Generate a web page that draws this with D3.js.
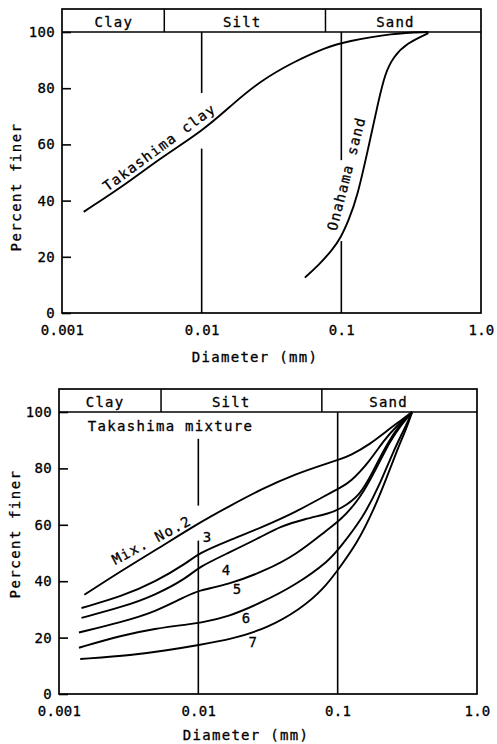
<!DOCTYPE html>
<html>
<head>
<meta charset="utf-8">
<script src="https://cdn.jsdelivr.net/npm/d3@7"></script>
<style>
  html, body { margin: 0; padding: 0; background: #fff; }
  svg { display: block; }
  text { font-family: "DejaVu Sans Mono", "Liberation Mono", monospace; fill: #000; stroke: #000; stroke-width: 0.3px; }
</style>
</head>
<body>
<svg id="chart" width="497" height="744"></svg>
<script>
// ---- axis content ----
const xTicks = [0.001, 0.01, 0.1, 1.0];
const xTickLabels = ["0.001", "0.01", "0.1", "1.0"];
const yTicks = [0, 20, 40, 60, 80, 100];

// soil classes (grain size, mm)
const bandNames = ["Clay", "Silt", "Sand"];
const bandEdges = [0.001, 0.0054, 0.077, 1.0];

// ---- upper panel: parent soils ----
const clayDiam = [0.00143, 0.00294, 0.00508, 0.0103, 0.0168, 0.0262, 0.0451, 0.0787, 0.109, 0.232, 0.42];
const clayPct  = [36.0, 46.2, 55.2, 65.0, 74.5, 82.5, 89.3, 94.7, 96.6, 99.6, 100];

const sandDiam = [0.0548, 0.069, 0.0859, 0.0986, 0.113, 0.1295, 0.155, 0.185, 0.206, 0.236, 0.294, 0.42];
const sandPct  = [12.6, 17.1, 22.4, 26.6, 33.1, 41.0, 58.0, 75.8, 85.3, 91.2, 96.0, 99.6];

// ---- lower panel: Takashima mixtures ----
const mix2Diam = [0.00152, 0.00282, 0.00489, 0.00996, 0.0164, 0.0285, 0.0495, 0.0882, 0.104, 0.1227, 0.1709, 0.2252, 0.2806, 0.342];
const mix2Pct  = [35.2, 43.8, 50.9, 60.5, 66.4, 72.7, 78.0, 82.1, 83.3, 84.5, 88.6, 93.3, 96.8, 100];

const mix3Diam = [0.00145, 0.00282, 0.00489, 0.00843, 0.00996, 0.0164, 0.0285, 0.0495, 0.0857, 0.104, 0.1227, 0.1709, 0.2129, 0.2657, 0.342];
const mix3Pct  = [30.5, 34.6, 39.7, 46.7, 49.8, 54.4, 59.1, 64.4, 70.9, 73.2, 75.0, 82.7, 89.8, 95.1, 100];

const mix4Diam = [0.00145, 0.00282, 0.00489, 0.00843, 0.00996, 0.0164, 0.0285, 0.0386, 0.0583, 0.0882, 0.104, 0.1448, 0.1805, 0.2252, 0.2806, 0.342];
const mix4Pct  = [27.0, 30.8, 35.0, 41.4, 44.9, 50.0, 55.8, 59.4, 62.1, 64.1, 65.6, 70.3, 79.2, 88.6, 95.7, 100];

const mix5Diam = [0.00139, 0.00282, 0.00489, 0.00843, 0.00996, 0.0164, 0.0295, 0.051, 0.0857, 0.104, 0.1448, 0.1909, 0.2378, 0.2886, 0.342];
const mix5Pct  = [21.8, 25.5, 29.1, 35.0, 36.7, 38.8, 43.5, 49.5, 58.6, 61.5, 69.2, 80.3, 89.8, 95.7, 100];

const mix6Diam = [0.00139, 0.00282, 0.00489, 0.00843, 0.00996, 0.0164, 0.0285, 0.0495, 0.0882, 0.104, 0.153, 0.2016, 0.2512, 0.3048, 0.342];
const mix6Pct  = [16.4, 20.8, 23.2, 24.7, 25.1, 27.3, 32.5, 38.5, 47.5, 52.0, 62.7, 74.5, 86.2, 94.5, 100];

const mix7Diam = [0.00142, 0.0034, 0.00596, 0.00995, 0.0177, 0.0311, 0.0537, 0.0786, 0.104, 0.1371, 0.1805, 0.2252, 0.2657, 0.3134, 0.342];
const mix7Pct  = [12.4, 13.8, 15.5, 17.3, 19.6, 23.3, 30.0, 37.0, 45.0, 53.3, 65.0, 76.8, 86.2, 94.5, 100];

const zip = (a, b) => a.map((v, i) => [v, b[i]]);

// ---- panel layout ----
const panels = [
  {
    left: 62, right: 481, top: 32, bottom: 313, bandTop: 9,
    bandLabelAt: [0.00235, 0.0195, 0.244],
    // vertical guide lines with their visible percent ranges
    guides: [
      { d: 0.01, segs: [[100, 78.3], [58.5, 0]] },
      { d: 0.1,  segs: [[100, 54.4], [25.6, 0]] }
    ],
    curves: [zip(clayDiam, clayPct), zip(sandDiam, sandPct)],
    labels: [
      { text: "Takashima clay", d: 0.00497, p: 59.0, angle: -36.5 },
      { text: "Onahama sand",   d: 0.1084,  p: 49.6, angle: -75.5 }
    ],
    yTitle: { x: 16, y: 187 },
    xTitle: { x: 255, y: 357 }
  },
  {
    left: 59, right: 477, top: 412, bottom: 694, bandTop: 389,
    bandLabelAt: [0.00214, 0.0172, 0.232],
    guides: [
      { d: 0.01, segs: [[90.5, 66.8], [54.4, 0]] },
      { d: 0.1,  segs: [[100, 0]] }
    ],
    curves: [
      zip(mix2Diam, mix2Pct), zip(mix3Diam, mix3Pct), zip(mix4Diam, mix4Pct),
      zip(mix5Diam, mix5Pct), zip(mix6Diam, mix6Pct), zip(mix7Diam, mix7Pct)
    ],
    labels: [
      { text: "Takashima mixture", d: 0.00161, p: 95.0, angle: 0, anchor: "start" },
      { text: "Mix. No.2", d: 0.00461, p: 54.6, angle: -28 },
      { text: "3", d: 0.01167, p: 55.8, angle: 0 },
      { text: "4", d: 0.01598, p: 44.0, angle: 0 },
      { text: "5", d: 0.01917, p: 37.1, angle: 0 },
      { text: "6", d: 0.02224, p: 26.8, angle: 0 },
      { text: "7", d: 0.0248,  p: 18.5, angle: 0 }
    ],
    yTitle: { x: 15, y: 534 },
    xTitle: { x: 246, y: 735 }
  }
];

const svg = d3.select("#chart");
const FS = 14;

panels.forEach(p => {
  const x = d3.scaleLog().domain([0.001, 1]).range([p.left, p.right]);
  const y = d3.scaleLinear().domain([0, 100]).range([p.bottom, p.top]);
  const g = svg.append("g");

  // outer frame including the class band
  g.append("rect")
    .attr("x", p.left).attr("y", p.bandTop)
    .attr("width", p.right - p.left).attr("height", p.bottom - p.bandTop)
    .attr("fill", "none").attr("stroke", "#000").attr("stroke-width", 1.7);

  // band bottom (100 % line)
  g.append("line")
    .attr("x1", p.left).attr("x2", p.right)
    .attr("y1", y(100)).attr("y2", y(100))
    .attr("stroke", "#000").attr("stroke-width", 1.7);

  // band dividers
  g.selectAll(".div").data(bandEdges.slice(1, -1)).join("line")
    .attr("x1", d => x(d)).attr("x2", d => x(d))
    .attr("y1", p.bandTop).attr("y2", y(100))
    .attr("stroke", "#000").attr("stroke-width", 1.5);

  // band names
  g.selectAll(".band").data(bandNames).join("text")
    .attr("x", (d, i) => x(p.bandLabelAt[i]))
    .attr("y", (p.bandTop + y(100)) / 2 + 1)
    .attr("text-anchor", "middle").attr("dominant-baseline", "central")
    .attr("font-size", FS).attr("letter-spacing", 1.2)
    .text(d => d);

  // vertical guides at 0.01 and 0.1 mm
  p.guides.forEach(gd => {
    gd.segs.forEach(s => {
      g.append("line")
        .attr("x1", x(gd.d)).attr("x2", x(gd.d))
        .attr("y1", y(s[0])).attr("y2", y(s[1]))
        .attr("stroke", "#000").attr("stroke-width", 1.6);
    });
  });

  // y axis with inward ticks
  const ya = g.append("g").attr("transform", `translate(${p.left},0)`)
    .call(d3.axisLeft(y).tickValues(yTicks).tickSize(-9).tickPadding(7).tickFormat(d3.format("d")));
  ya.select(".domain").remove();
  ya.selectAll(".tick line").attr("stroke", "#000").attr("stroke-width", 1.6);
  ya.selectAll(".tick text")
    .attr("font-family", "DejaVu Sans Mono, monospace")
    .attr("font-size", FS).attr("letter-spacing", 0.3).attr("fill", "#000");

  // x axis labels
  const xa = g.append("g").attr("transform", `translate(0,${p.bottom})`)
    .call(d3.axisBottom(x).tickValues(xTicks).tickSize(0).tickPadding(12)
      .tickFormat((d, i) => xTickLabels[i]));
  xa.select(".domain").remove();
  xa.selectAll(".tick text")
    .attr("font-family", "DejaVu Sans Mono, monospace")
    .attr("font-size", FS).attr("letter-spacing", 0.3).attr("fill", "#000");

  // grading curves
  const line = d3.line().x(d => x(d[0])).y(d => y(d[1])).curve(d3.curveBasis);
  g.selectAll(".curve").data(p.curves).join("path")
    .attr("d", line)
    .attr("fill", "none").attr("stroke", "#000").attr("stroke-width", 1.9);

  // curve labels
  p.labels.forEach(l => {
    g.append("text")
      .attr("transform", `translate(${x(l.d)},${y(l.p)}) rotate(${l.angle})`)
      .attr("text-anchor", l.anchor || "middle")
      .attr("dominant-baseline", "central")
      .attr("font-size", FS).attr("letter-spacing", 1.3)
      .text(l.text);
  });

  // axis titles
  g.append("text")
    .attr("transform", `translate(${p.yTitle.x},${p.yTitle.y}) rotate(-90)`)
    .attr("text-anchor", "middle").attr("dominant-baseline", "central")
    .attr("font-size", FS).attr("letter-spacing", 1.5)
    .text("Percent finer");
  g.append("text")
    .attr("x", p.xTitle.x).attr("y", p.xTitle.y)
    .attr("text-anchor", "middle").attr("dominant-baseline", "central")
    .attr("font-size", FS).attr("letter-spacing", 1.3)
    .text("Diameter (mm)");
});
</script>
</body>
</html>
